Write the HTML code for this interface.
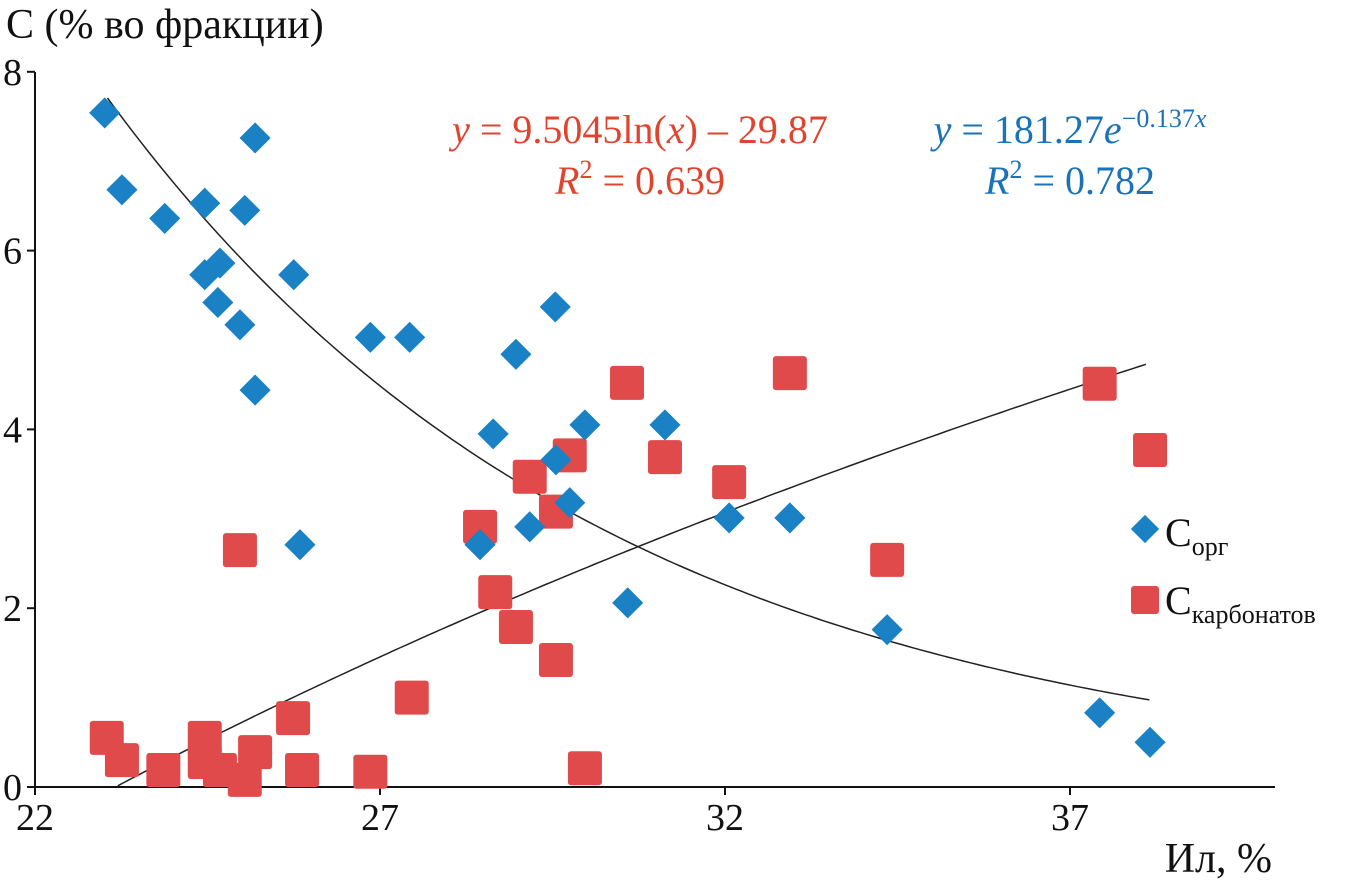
<!DOCTYPE html>
<html><head><meta charset="utf-8"><style>
html,body{margin:0;padding:0;background:#fff;}
svg{display:block;font-family:"Liberation Serif",serif;}
</style></head><body>
<svg id="chart" width="1349" height="884" viewBox="0 0 1349 884">
<text x="6" y="38" font-size="42" fill="#111">С (% во фракции)</text>
<text x="1272" y="872" font-size="42" fill="#111" text-anchor="end">Ил, %</text>
<g id="axes"></g>
<g id="trends"></g>
<g id="marks"></g>
<g fill="#e0442f" font-size="40" text-anchor="middle">
<text x="640" y="143"><tspan font-style="italic">y</tspan> = 9.5045ln(<tspan font-style="italic">x</tspan>) – 29.87</text>
<text x="640" y="194"><tspan font-style="italic">R</tspan><tspan font-size="26" dy="-16">2</tspan><tspan dy="16"> = 0.639</tspan></text>
</g>
<g fill="#1a72b8" font-size="40" text-anchor="middle">
<text x="1070" y="143"><tspan font-style="italic">y</tspan> = 181.27<tspan font-style="italic">e</tspan><tspan font-size="26" dy="-16">−0.137<tspan font-style="italic">x</tspan></tspan></text>
<text x="1070" y="194"><tspan font-style="italic">R</tspan><tspan font-size="26" dy="-16">2</tspan><tspan dy="16"> = 0.782</tspan></text>
</g>
<g>
<g>
<rect x="1135" y="519" width="20" height="20" fill="#1a82c4" transform="rotate(45 1145 529)"/>
<text x="1165" y="546" font-size="40" fill="#111">С<tspan font-size="26" dy="9">орг</tspan></text>
</g>
<g>
<rect x="1131" y="586" width="28" height="28" rx="3" fill="#e04a4a"/>
<text x="1165" y="614" font-size="40" fill="#111">С<tspan font-size="26" dy="9">карбонатов</tspan></text>
</g>
</g>
</svg>
<script>
const xTicks=[22,27,32,37];
const yTicks=[0,2,4,6,8];
const corgX=[23.01,23.26,23.88,24.46,24.46,24.68,24.65,25.04,25.19,24.97,25.19,25.75,25.84,26.86,27.43,28.97,29.54,28.64,28.45,29.17,29.55,29.75,29.97,30.59,31.13,32.06,32.94,34.35,37.43,38.16];
const corgY=[7.54,6.68,6.36,6.53,5.73,5.86,5.42,6.45,7.26,5.17,4.44,5.73,2.71,5.03,5.03,4.84,5.37,3.95,2.71,2.91,3.66,3.18,4.05,2.06,4.05,3.01,3.01,1.76,0.83,0.50];
const carbX=[23.04,23.26,23.86,24.46,24.46,24.68,25.04,25.19,24.97,25.74,25.87,26.86,27.46,28.45,28.67,28.97,29.17,29.55,29.55,29.75,29.97,30.58,31.13,32.06,32.94,34.35,37.43,38.16];
const carbY=[0.55,0.30,0.19,0.55,0.28,0.19,0.08,0.39,2.65,0.77,0.19,0.17,1.0,2.91,2.18,1.79,3.47,1.42,3.08,3.71,0.21,4.52,3.69,3.41,4.63,2.54,4.51,3.77];
const expA=181.27, expB=-0.137, logA=9.5045, logB=-29.87;
const sx=v=>35+(v-22)*69;
const sy=v=>787-v*89.4;
const NS="http://www.w3.org/2000/svg";
function mk(t,a,p){const e=document.createElementNS(NS,t);for(const k in a)e.setAttribute(k,a[k]);p.appendChild(e);return e;}
const ax=document.getElementById('axes');
let l=mk('line',{x1:35,y1:72,x2:35,y2:787,stroke:'#111','stroke-width':2},ax);


l=mk('line',{x1:35,y1:787,x2:1275,y2:787,stroke:'#111','stroke-width':2},ax);


xTicks.forEach(v=>{
 mk('line',{x1:sx(v),y1:787,x2:sx(v),y2:795,stroke:'#111','stroke-width':2},ax);
 const t=mk('text',{x:sx(v),y:830,'font-size':38,'text-anchor':'middle',fill:'#111'},ax);t.textContent=v;
 
 
});
yTicks.forEach(v=>{
 mk('line',{x1:27,y1:sy(v),x2:35,y2:sy(v),stroke:'#111','stroke-width':2},ax);
 const t=mk('text',{x:22,y:sy(v)+13,'font-size':38,'text-anchor':'end',fill:'#111'},ax);t.textContent=v;
 
 
});
const tr=document.getElementById('trends');
let d='';for(let x=23.05;x<=38.2;x+=0.1){d+=(d?'L':'M')+sx(x).toFixed(1)+','+sy(expA*Math.exp(expB*x)).toFixed(1);}
let p=mk('path',{d:d,fill:'none',stroke:'#222','stroke-width':1.5},tr);


d='';for(let x=23.2;x<=38.2;x+=0.1){d+=(d?'L':'M')+sx(x).toFixed(1)+','+sy(logA*Math.log(x)+logB).toFixed(1);}
p=mk('path',{d:d,fill:'none',stroke:'#222','stroke-width':1.5},tr);


const mg=document.getElementById('marks');
carbX.forEach((x,i)=>{
 const r=mk('rect',{x:sx(x)-17,y:sy(carbY[i])-17,width:34,height:34,rx:3,fill:'#e04a4a'},mg);
 
 
});
corgX.forEach((x,i)=>{
 const cx=sx(x),cy=sy(corgY[i]);
 const r=mk('rect',{x:cx-11,y:cy-11,width:22,height:22,fill:'#1a82c4',transform:`rotate(45 ${cx} ${cy})`},mg);
 
 
});
</script>
</body></html>
